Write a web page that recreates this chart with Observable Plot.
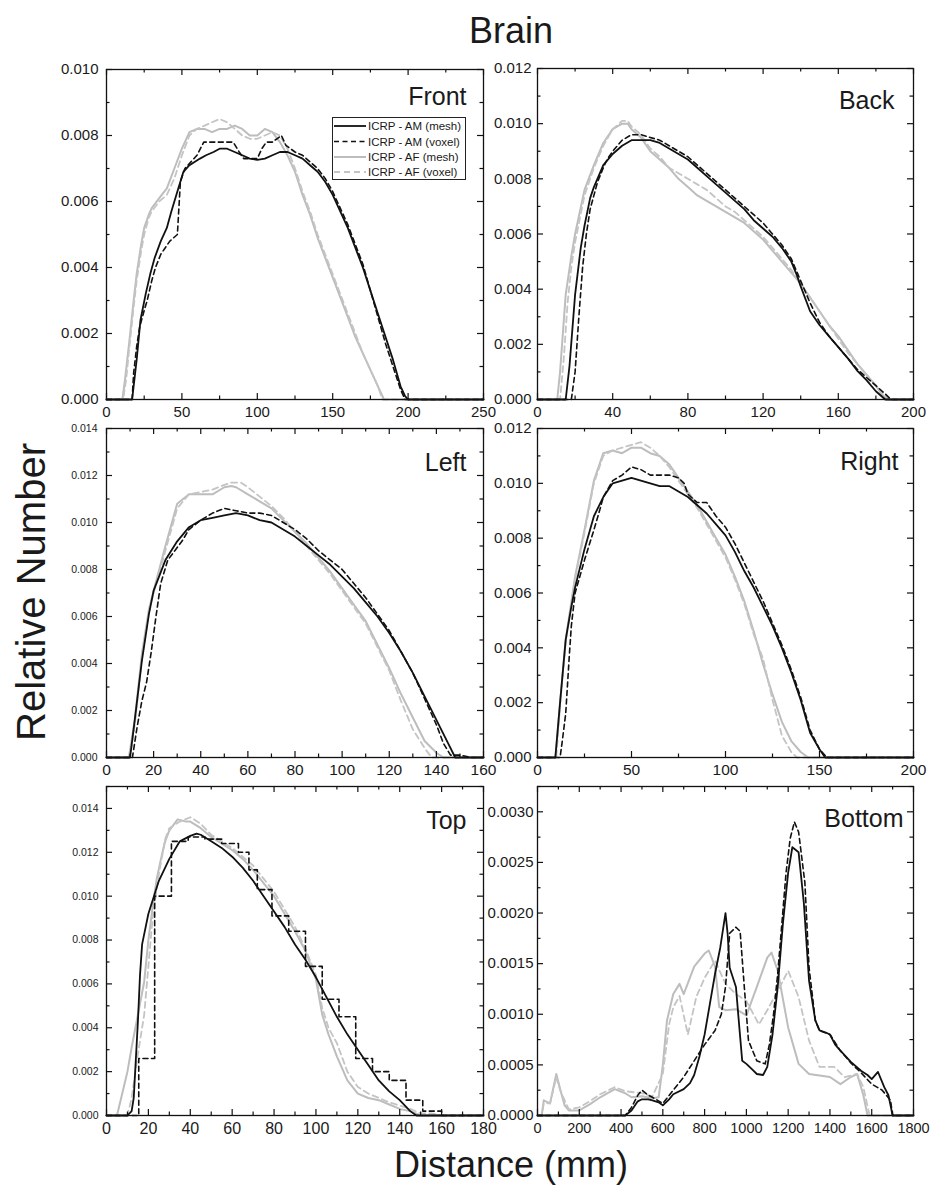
<!DOCTYPE html>
<html><head><meta charset="utf-8">
<script src="https://cdn.jsdelivr.net/npm/d3@7"></script>
<script src="https://cdn.jsdelivr.net/npm/@observablehq/plot@0.6"></script>
<style>
body{margin:0;background:#fff;}
#root{position:relative;width:933px;height:1194px;background:#fff;font-family:"Liberation Sans",Arial,sans-serif;color:#111;overflow:hidden}
#root svg{position:absolute;overflow:visible}
</style></head><body><div id="root"></div>
<script>
// ---------- series names ----------
const seriesNames = ["ICRP - AM (mesh)", "ICRP - AM (voxel)", "ICRP - AF (mesh)", "ICRP - AF (voxel)"];
const panelNames = ["Front", "Back", "Left", "Right", "Top", "Bottom"];

// ---------- Front ----------
const front_AM_mesh = [[0,0],[17,0],[20,0.0012],[22.5,0.0024],[26,0.0032],[29,0.0038],[32,0.0043],[36,0.0048],[40,0.0052],[43,0.0057],[47,0.0063],[51,0.0069],[55,0.0071],[62,0.0073],[66,0.0074],[71,0.0075],[75,0.0076],[80,0.0076],[85,0.0075],[90,0.0074],[95,0.0073],[100,0.00726],[105,0.0073],[110,0.0074],[115,0.0075],[120,0.0075],[125,0.0074],[130,0.0073],[135,0.0071],[140,0.0069],[145,0.0066],[150,0.0062],[155,0.0057],[160,0.0052],[165,0.0046],[170,0.0040],[175,0.0033],[180,0.0026],[185,0.0019],[190,0.0012],[195,0.0004],[198,0.0001],[200,0],[250,0]];
const front_AM_vox = [[0,0],[17,0],[18,0.0008],[20,0.0016],[22,0.0022],[25,0.0027],[27,0.0030],[30,0.0036],[32.5,0.0040],[36,0.0044],[39,0.0046],[42,0.0048],[44.5,0.0049],[47,0.0050],[48,0.0058],[49,0.0066],[52,0.0070],[56,0.0072],[60,0.0074],[64.5,0.0078],[70,0.0078],[75,0.0078],[80,0.0078],[84,0.0078],[88,0.0075],[91,0.0073],[96,0.0073],[100,0.0073],[103,0.0076],[106,0.0078],[110,0.0078],[113,0.0079],[116,0.0080],[119,0.0077],[125,0.0075],[130,0.0074],[135,0.0072],[140,0.0070],[145,0.0067],[150,0.0063],[155,0.0058],[160,0.0053],[165,0.0047],[170,0.0041],[175,0.0033],[180,0.0025],[185,0.0017],[190,0.0010],[195,0.0003],[198,0],[250,0]];
const front_AF_mesh = [[0,0],[10.5,0],[12,0.0005],[15,0.0017],[18,0.0030],[20,0.0038],[23,0.0047],[25,0.0052],[28,0.0056],[30,0.0058],[35,0.0061],[40,0.0064],[45,0.0070],[50,0.0076],[55,0.0081],[60,0.0082],[65,0.0082],[70,0.0081],[75,0.0082],[80,0.0082],[85,0.0083],[90,0.0082],[95,0.0080],[100,0.0080],[105,0.0082],[110,0.0081],[115,0.0078],[120,0.0074],[125,0.0069],[130,0.0062],[135,0.0056],[140,0.0049],[145,0.0043],[150,0.0037],[155,0.0031],[160,0.0025],[165,0.0019],[170,0.0014],[175,0.0009],[180,0.0004],[184,0],[250,0]];
const front_AF_vox = [[0,0],[11,0],[13,0.0006],[15,0.0015],[18,0.0028],[20,0.0036],[23,0.0045],[25,0.0050],[28,0.0055],[30,0.0057],[35,0.0060],[40,0.0062],[45,0.0067],[50,0.0074],[55,0.0080],[60,0.0082],[65,0.0083],[70,0.0084],[75,0.0085],[80,0.0084],[85,0.0082],[90,0.0080],[95,0.0079],[100,0.0079],[105,0.0080],[110,0.0081],[115,0.0080],[120,0.0076],[125,0.0070],[130,0.0063],[135,0.0057],[140,0.0050],[145,0.0044],[150,0.0038],[155,0.0032],[160,0.0026],[165,0.0020],[170,0.0014],[175,0.0009],[180,0.0004],[183,0],[250,0]];

// ---------- Back ----------
const back_AM_mesh = [[0,0],[15,0],[17,0.0012],[20,0.0038],[23,0.0055],[25,0.0063],[28,0.0073],[30,0.0077],[35,0.0085],[40,0.0089],[45,0.0092],[50,0.0094],[55,0.0094],[60,0.0094],[65,0.0093],[70,0.0091],[75,0.0089],[80,0.0087],[85,0.0084],[90,0.0081],[95,0.0078],[100,0.0075],[105,0.0072],[110,0.0069],[115,0.0065],[120,0.0062],[125,0.0059],[130,0.0055],[135,0.0050],[138,0.0045],[140,0.0041],[145,0.0032],[150,0.0027],[155,0.0023],[160,0.0019],[165,0.0015],[170,0.00105],[175,0.0007],[180,0.0003],[185,0],[200,0]];
const back_AM_vox = [[0,0],[18,0],[20,0.0010],[22,0.0030],[24,0.0048],[26,0.0060],[28,0.0069],[30,0.0074],[32,0.0079],[35,0.0084],[37,0.0087],[40,0.0090],[45,0.0094],[50,0.0096],[55,0.0096],[60,0.0095],[65,0.0094],[70,0.0092],[75,0.0090],[80,0.0088],[85,0.0085],[90,0.0082],[95,0.0079],[100,0.0076],[105,0.0073],[110,0.0070],[115,0.0067],[120,0.0064],[125,0.0060],[130,0.0056],[135,0.0051],[140,0.0043],[145,0.0035],[150,0.0028],[155,0.0023],[160,0.0019],[165,0.0015],[170,0.0011],[175,0.0008],[180,0.0005],[185,0.0002],[188,0],[200,0]];
const back_AF_mesh = [[0,0],[10.5,0],[12,0.0010],[15,0.0038],[18,0.0052],[20,0.0060],[25,0.0076],[30,0.0085],[35,0.0093],[40,0.0098],[45,0.0100],[48,0.0100],[50,0.0098],[55,0.0095],[60,0.0090],[65,0.0087],[70,0.0084],[75,0.0080],[80,0.0077],[85,0.0074],[90,0.0072],[95,0.0070],[100,0.0068],[105,0.0066],[110,0.0064],[115,0.0061],[120,0.0058],[125,0.0054],[130,0.0050],[135,0.0046],[140,0.0042],[145,0.0037],[150,0.0032],[155,0.0027],[160,0.0023],[165,0.0018],[170,0.0013],[175,0.0009],[180,0.0005],[183,0.0002],[186,0],[200,0]];
const back_AF_vox = [[0,0],[12,0],[14,0.0015],[16,0.0035],[18,0.0048],[20,0.0057],[25,0.0074],[30,0.0084],[35,0.0092],[40,0.0098],[45,0.0101],[48,0.0101],[50,0.0099],[55,0.0096],[60,0.0091],[65,0.0088],[70,0.0084],[75,0.0082],[80,0.0080],[85,0.0078],[90,0.0076],[95,0.0073],[100,0.0070],[105,0.0068],[110,0.0065],[115,0.0062],[120,0.0059],[125,0.0055],[130,0.0051],[135,0.0047],[140,0.0042],[145,0.0037],[150,0.0032],[155,0.0027],[160,0.0022],[165,0.0017],[170,0.0013],[175,0.0009],[180,0.0005],[184,0.0002],[187,0],[200,0]];

// ---------- Left ----------
const left_AM_mesh = [[0,0],[10,0],[12,0.0016],[15,0.0041],[18,0.0061],[20,0.0071],[25,0.0084],[30,0.0092],[35,0.0098],[40,0.0101],[45,0.0102],[50,0.0103],[55,0.0104],[60,0.0103],[65,0.0101],[70,0.0100],[75,0.0097],[80,0.0094],[85,0.0090],[90,0.0086],[95,0.0082],[100,0.0077],[105,0.0072],[110,0.0066],[115,0.0060],[120,0.0053],[125,0.0045],[130,0.0036],[135,0.0026],[140,0.0016],[145,0.0006],[148,0],[160,0]];
const left_AM_vox = [[0,0],[11,0],[13,0.0013],[15,0.0024],[17,0.0032],[19,0.0045],[21,0.0060],[23,0.0074],[26,0.0084],[29,0.0088],[32,0.0092],[35,0.0097],[40,0.0101],[45,0.0104],[50,0.0106],[55,0.0105],[60,0.0104],[65,0.0104],[70,0.0103],[75,0.0100],[80,0.0097],[85,0.0093],[90,0.0088],[95,0.0084],[100,0.0080],[105,0.0074],[110,0.0068],[115,0.0061],[120,0.0054],[125,0.0045],[130,0.0036],[135,0.0025],[140,0.0014],[143,0.0006],[146,0.0001],[150,0.0001],[155,0],[160,0]];
const left_AF_mesh = [[0,0],[9.5,0],[12,0.0016],[15,0.0044],[18,0.0063],[20,0.0071],[25,0.0090],[30,0.0108],[35,0.0112],[40,0.0112],[45,0.0112],[50,0.0115],[53,0.01155],[55,0.0115],[60,0.0112],[65,0.0109],[70,0.0106],[75,0.0101],[80,0.0096],[85,0.0091],[90,0.0085],[95,0.0079],[100,0.0072],[105,0.0065],[110,0.0058],[115,0.0048],[120,0.0038],[125,0.0027],[130,0.0017],[135,0.0007],[140,0.0002],[143,0],[160,0]];
const left_AF_vox = [[0,0],[10,0],[12,0.0014],[15,0.0042],[18,0.0062],[20,0.0070],[25,0.0088],[30,0.0106],[35,0.0112],[40,0.0113],[45,0.0114],[50,0.0116],[53,0.0117],[57,0.0117],[60,0.0115],[65,0.0111],[70,0.0107],[75,0.0102],[80,0.0096],[85,0.0090],[90,0.0084],[95,0.0078],[100,0.0071],[105,0.0064],[110,0.0057],[115,0.0047],[120,0.0037],[125,0.0024],[130,0.0012],[135,0.0004],[138,0],[160,0]];

// ---------- Right ----------
const right_AM_mesh = [[0,0],[9.5,0],[12,0.0020],[15,0.0043],[18,0.0055],[20,0.0062],[25,0.0076],[30,0.0088],[35,0.0095],[40,0.0100],[45,0.0101],[50,0.0102],[55,0.0101],[60,0.0100],[65,0.0099],[70,0.0099],[75,0.0097],[80,0.0095],[85,0.0092],[90,0.0089],[95,0.0085],[100,0.0081],[105,0.0075],[110,0.0068],[115,0.0062],[120,0.0055],[125,0.0048],[130,0.0040],[135,0.0031],[140,0.0021],[145,0.0009],[150,0.0003],[153,0],[200,0]];
const right_AM_vox = [[0,0],[12,0],[13,0.0005],[15,0.0016],[17,0.0038],[18,0.0048],[20,0.0060],[25,0.0072],[30,0.0083],[33,0.0090],[35,0.0095],[40,0.0101],[45,0.0103],[50,0.0106],[55,0.0105],[60,0.0103],[65,0.0103],[70,0.0103],[75,0.0102],[78,0.0100],[80,0.0096],[85,0.0093],[90,0.0093],[95,0.0088],[100,0.0084],[105,0.0078],[110,0.0071],[115,0.0064],[120,0.0057],[125,0.0049],[130,0.0041],[135,0.0032],[140,0.0022],[145,0.0010],[150,0.0003],[154,0],[200,0]];
const right_AF_mesh = [[0,0],[9.5,0],[12,0.0020],[15,0.0043],[20,0.0066],[25,0.0083],[30,0.0101],[35,0.0111],[40,0.0112],[45,0.0111],[50,0.0113],[55,0.0113],[60,0.0111],[65,0.0110],[70,0.0107],[75,0.0102],[80,0.0097],[85,0.0092],[90,0.0086],[95,0.0080],[100,0.0074],[105,0.0066],[110,0.0057],[115,0.0046],[120,0.0034],[125,0.0023],[130,0.0013],[135,0.0006],[140,0.0002],[144,0],[200,0]];
const right_AF_vox = [[0,0],[10,0],[12,0.0019],[15,0.0042],[20,0.0065],[25,0.0082],[30,0.0100],[35,0.0110],[40,0.0112],[45,0.0113],[50,0.0114],[55,0.0115],[60,0.0113],[65,0.0110],[70,0.0106],[75,0.0101],[80,0.0096],[85,0.0091],[90,0.0085],[95,0.0079],[100,0.0073],[105,0.0065],[110,0.0056],[115,0.0045],[120,0.0036],[125,0.0021],[130,0.0008],[135,0.0002],[138,0],[200,0]];

// ---------- Top ----------
const top_AM_mesh = [[0,0],[10,0],[12,0.0002],[13,0.0008],[15,0.0043],[16,0.0064],[17,0.0078],[20,0.0092],[25,0.0107],[30,0.0117],[35,0.0125],[40,0.01275],[43,0.01285],[45,0.0128],[50,0.0125],[55,0.0122],[60,0.0118],[65,0.0113],[70,0.0107],[75,0.0100],[80,0.0093],[85,0.0086],[90,0.0078],[95,0.0071],[100,0.0063],[105,0.0054],[110,0.0045],[115,0.0037],[120,0.0030],[125,0.0023],[130,0.0016],[135,0.0011],[140,0.0007],[145,0.0002],[148,0],[180,0]];
const top_AM_vox = [[0,0],[14,0],[15.4,0.0026],[23,0.0100],[31,0.0125],[39,0.0127],[47,0.0126],[55,0.0124],[63,0.0120],[68,0.0112],[72,0.0103],[79,0.0091],[87,0.0084],[95,0.0068],[103,0.0053],[111,0.0045],[119,0.0026],[127,0.0020],[135,0.0016],[143,0.0007],[151,0.0002],[160,0],[180,0]];
const top_AF_mesh = [[0,0],[5,0],[8,0.0012],[10,0.0020],[12,0.0031],[15,0.0046],[18,0.0061],[20,0.0080],[22,0.0095],[24,0.0108],[26,0.0117],[28,0.0125],[30,0.0130],[34,0.0135],[38,0.0134],[40,0.0134],[45,0.0131],[50,0.0127],[55,0.0124],[60,0.0121],[65,0.0117],[70,0.0112],[75,0.0106],[80,0.0100],[85,0.0092],[90,0.0084],[95,0.0075],[100,0.0062],[103,0.0046],[106,0.0037],[110,0.0027],[115,0.0016],[120,0.0010],[125,0.0008],[130,0.0007],[135,0.0005],[140,0.0003],[145,0.0002],[150,0],[180,0]];
const top_AF_vox = [[0,0],[10,0],[12,0.0008],[15,0.0028],[18,0.0046],[20,0.0068],[22,0.0090],[25,0.0110],[28,0.0126],[30,0.0131],[35,0.0134],[40,0.0136],[45,0.0133],[50,0.0128],[55,0.0125],[60,0.0122],[65,0.0118],[70,0.0114],[75,0.0108],[80,0.0102],[85,0.0094],[90,0.0086],[95,0.0076],[100,0.0064],[103,0.0049],[106,0.0040],[110,0.0033],[115,0.0020],[120,0.0013],[125,0.0010],[130,0.0008],[135,0.0006],[140,0.00045],[145,0.0003],[150,0.0001],[155,0.0001],[160,0],[180,0]];

// ---------- Bottom ----------
const bottom_AM_mesh = [[0,0],[420,0],[450,0.00005],[480,0.00014],[500,0.00016],[530,0.00016],[550,0.00015],[580,0.00013],[600,0.0001],[630,0.00016],[650,0.00021],[700,0.00026],[730,0.00032],[750,0.0004],[775,0.00058],[800,0.0008],[825,0.0011],[850,0.0014],[875,0.00166],[900,0.0020],[910,0.0018],[920,0.00146],[950,0.00127],[965,0.0009],[980,0.00054],[1000,0.00051],[1030,0.00045],[1050,0.00041],[1080,0.0004],[1100,0.00048],[1125,0.0008],[1150,0.00127],[1175,0.0019],[1200,0.0024],[1220,0.00265],[1250,0.0026],[1275,0.0021],[1300,0.00133],[1330,0.00094],[1350,0.00084],[1380,0.00082],[1400,0.0008],[1425,0.0007],[1450,0.00064],[1500,0.00053],[1550,0.00044],[1580,0.0004],[1600,0.00036],[1630,0.00043],[1660,0.00028],[1680,0.0002],[1690,0.0001],[1700,0],[1800,0]];
const bottom_AM_vox = [[0,0],[420,0],[450,0.00008],[480,0.0002],[500,0.00025],[530,0.0002],[550,0.00018],[600,0.00012],[650,0.00025],[700,0.00038],[750,0.00054],[800,0.0007],[850,0.00084],[880,0.001],[900,0.00127],[920,0.0018],[950,0.00186],[970,0.00182],[990,0.00127],[1010,0.00074],[1050,0.00054],[1090,0.00051],[1110,0.0007],[1130,0.001],[1150,0.0014],[1170,0.0019],[1190,0.0024],[1210,0.00274],[1230,0.0029],[1250,0.0028],[1280,0.0023],[1300,0.00146],[1330,0.00094],[1350,0.00084],[1400,0.0008],[1450,0.00064],[1500,0.00052],[1550,0.00042],[1600,0.00031],[1650,0.00025],[1690,0.00015],[1700,0],[1800,0]];
const bottom_AF_mesh = [[0,0],[20,0],[30,0.00015],[60,0.00012],[90,0.00041],[110,0.00025],[130,0.0001],[150,0.00005],[200,0.00005],[250,0.00011],[300,0.00018],[370,0.00026],[420,0.00022],[450,0.00018],[500,0.00019],[550,0.00017],[580,0.00018],[600,0.0005],[620,0.00094],[650,0.0012],[680,0.0013],[700,0.0012],[750,0.00147],[800,0.0016],[820,0.00163],[850,0.00147],[870,0.00107],[900,0.00104],[950,0.00105],[1000,0.00099],[1050,0.00127],[1100,0.00156],[1120,0.00161],[1150,0.00143],[1200,0.00087],[1250,0.00051],[1300,0.00041],[1400,0.00038],[1450,0.00031],[1500,0.00038],[1530,0.00041],[1560,0.0002],[1580,0],[1800,0]];
const bottom_AF_vox = [[0,0],[20,0],[30,0.00012],[60,0.00012],[90,0.00038],[110,0.00024],[150,0.00006],[200,0.00008],[250,0.00014],[300,0.00021],[370,0.00028],[420,0.00024],[500,0.00022],[550,0.00019],[600,0.00041],[630,0.0009],[650,0.00107],[680,0.00118],[720,0.0008],[760,0.00117],[800,0.00136],[850,0.00153],[900,0.0013],[950,0.0012],[1000,0.00113],[1060,0.0009],[1100,0.00104],[1150,0.00123],[1200,0.00143],[1250,0.00117],[1300,0.00074],[1350,0.00048],[1420,0.00048],[1470,0.00038],[1530,0.00041],[1560,0.00028],[1590,0],[1800,0]];

// ---------- ticks ----------
const front_xTicks = [0,50,100,150,200,250], front_xMinor = [25,75,125,175,225];
const front_yTicks = [0,0.002,0.004,0.006,0.008,0.010], front_yMinor = [0.001,0.003,0.005,0.007,0.009];
const back_xTicks = [0,40,80,120,160,200], back_xMinor = [20,60,100,140,180];
const back_yTicks = [0,0.002,0.004,0.006,0.008,0.010,0.012], back_yMinor = [0.001,0.003,0.005,0.007,0.009,0.011];
const left_xTicks = [0,20,40,60,80,100,120,140,160], left_xMinor = [10,30,50,70,90,110,130,150];
const left_yTicks = [0,0.002,0.004,0.006,0.008,0.010,0.012,0.014], left_yMinor = [0.001,0.003,0.005,0.007,0.009,0.011,0.013];
const right_xTicks = [0,50,100,150,200], right_xMinor = [25,75,125,175];
const right_yTicks = [0,0.002,0.004,0.006,0.008,0.010,0.012], right_yMinor = [0.001,0.003,0.005,0.007,0.009,0.011];
const top_xTicks = [0,20,40,60,80,100,120,140,160,180], top_xMinor = [10,30,50,70,90,110,130,150,170];
const top_yTicks = [0,0.002,0.004,0.006,0.008,0.010,0.012,0.014], top_yMinor = [0.001,0.003,0.005,0.007,0.009,0.011,0.013,0.015];
const bottom_xTicks = [0,200,400,600,800,1000,1200,1400,1600,1800], bottom_xMinor = [100,300,500,700,900,1100,1300,1500,1700];
const bottom_yTicks = [0,0.0005,0.0010,0.0015,0.0020,0.0025,0.0030], bottom_yMinor = [0.00025,0.00075,0.00125,0.00175,0.00225,0.00275,0.00325];

// ---------- styles ----------
const styles = [
  {stroke:"#111", strokeWidth:1.8, dash:null},
  {stroke:"#111", strokeWidth:1.6, dash:"5,3.5"},
  {stroke:"#bdbdbd", strokeWidth:2, dash:null},
  {stroke:"#c4c4c4", strokeWidth:1.8, dash:"6,4"}
];
const FONT = "'Liberation Sans', Arial, sans-serif";

const panels = [
  {name:panelNames[0], left:106, top:69, w:377, h:330, xMax:250, yMax:0.010, series:[front_AM_mesh,front_AM_vox,front_AF_mesh,front_AF_vox], xT:front_xTicks, xM:front_xMinor, yT:front_yTicks, yM:front_yMinor, fmt:".3f", yFont:15, xFont:15, xPad:7, yPad:8, lx:-17, ly:18},
  {name:panelNames[1], left:537, top:68, w:376, h:331, xMax:200, yMax:0.012, series:[back_AM_mesh,back_AM_vox,back_AF_mesh,back_AF_vox], xT:back_xTicks, xM:back_xMinor, yT:back_yTicks, yM:back_yMinor, fmt:".3f", yFont:15, xFont:15, xPad:7, yPad:6, lx:-19, ly:23},
  {name:panelNames[2], left:106, top:428, w:377, h:329, xMax:160, yMax:0.014, series:[left_AM_mesh,left_AM_vox,left_AF_mesh,left_AF_vox], xT:left_xTicks, xM:left_xMinor, yT:left_yTicks, yM:left_yMinor, fmt:".3f", yFont:10.5, xFont:15.5, xPad:6, yPad:9, lx:-17, ly:25},
  {name:panelNames[3], left:537, top:428, w:376, h:329, xMax:200, yMax:0.012, series:[right_AM_mesh,right_AM_vox,right_AF_mesh,right_AF_vox], xT:right_xTicks, xM:right_xMinor, yT:right_yTicks, yM:right_yMinor, fmt:".3f", yFont:15, xFont:15.5, xPad:6, yPad:6, lx:-15, ly:24},
  {name:panelNames[4], left:106, top:786, w:377, h:329, xMax:180, yMax:0.015, series:[top_AM_mesh,top_AM_vox,top_AF_mesh,top_AF_vox], xT:top_xTicks, xM:top_xMinor, yT:top_yTicks, yM:top_yMinor, fmt:".3f", yFont:10.5, xFont:16, xPad:7, yPad:8, lx:-17, ly:25, stepVox:true},
  {name:panelNames[5], left:537, top:786, w:376, h:329, xMax:1800, yMax:0.00325, series:[bottom_AM_mesh,bottom_AM_vox,bottom_AF_mesh,bottom_AF_vox], xT:bottom_xTicks, xM:bottom_xMinor, yT:bottom_yTicks, yM:bottom_yMinor, fmt:".4f", yFont:15, xFont:14.5, xPad:7, yPad:4, lx:-10, ly:23}
];

const root = document.getElementById("root");
const mL = 60, mR = 6, mT = 6, mB = 32;

panels.forEach(p => {
  const lineMarks = p.series.map((data, i) => Plot.line(data, {
    x: d => d[0], y: d => d[1],
    stroke: styles[i].stroke, strokeWidth: styles[i].strokeWidth,
    strokeDasharray: styles[i].dash || undefined,
    curve: (p.stepVox && i === 1) ? "step-after" : "linear"
  }));
  const ordered = [lineMarks[2], lineMarks[3], lineMarks[0], lineMarks[1]];
  const tickStyle = {stroke: "#111", strokeWidth: 1.2};
  const chart = Plot.plot({
    width: p.w + mL + mR, height: p.h + mT + mB,
    marginLeft: mL, marginRight: mR, marginTop: mT, marginBottom: mB,
    x: {domain: [0, p.xMax]},
    y: {domain: [0, p.yMax]},
    style: {background: "transparent", overflow: "visible", fontFamily: FONT, color: "#1a1a1a"},
    marks: [
      ...ordered,
      Plot.tickX(p.xT, {x: d => d, insetTop: p.h - 6, ...tickStyle}),
      Plot.tickX(p.xT, {x: d => d, insetBottom: p.h - 6, ...tickStyle}),
      Plot.tickX(p.xM, {x: d => d, insetTop: p.h - 3.5, ...tickStyle}),
      Plot.tickX(p.xM, {x: d => d, insetBottom: p.h - 3.5, ...tickStyle}),
      Plot.tickY(p.yT, {y: d => d, insetRight: p.w - 6, ...tickStyle}),
      Plot.tickY(p.yT, {y: d => d, insetLeft: p.w - 6, ...tickStyle}),
      Plot.tickY(p.yM, {y: d => d, insetRight: p.w - 3.5, ...tickStyle}),
      Plot.tickY(p.yM, {y: d => d, insetLeft: p.w - 3.5, ...tickStyle}),
      Plot.axisX(p.xT, {anchor: "bottom", tickSize: 0, tickPadding: p.xPad, fontSize: p.xFont, label: null, tickFormat: d => String(d)}),
      Plot.axisY(p.yT, {anchor: "left", tickSize: 0, tickPadding: p.yPad, fontSize: p.yFont, label: null, tickFormat: d3.format(p.fmt)}),
      Plot.frame({stroke: "#111", strokeWidth: 1.3}),
      Plot.text([p.name], {text: d => d, frameAnchor: "top-right", textAnchor: "end", lineAnchor: "top", dx: p.lx, dy: p.ly, fontSize: 25, fill: "#1a1a1a"})
    ]
  });
  chart.style.left = (p.left - mL) + "px";
  chart.style.top = (p.top - mT) + "px";
  root.appendChild(chart);
});

// ---------- titles & legend overlay ----------
const ov = d3.select(root).append("svg")
  .attr("width", 933).attr("height", 1194)
  .style("left", "0px").style("top", "0px").style("pointer-events", "none")
  .style("font-family", FONT);
ov.append("text").attr("x", 511).attr("y", 43).attr("text-anchor", "middle").attr("font-size", 36).attr("fill", "#1a1a1a").text("Brain");
ov.append("text").attr("x", 511).attr("y", 1177).attr("text-anchor", "middle").attr("font-size", 36).attr("fill", "#1a1a1a").text("Distance (mm)");
ov.append("text").attr("transform", "translate(45,592) rotate(-90)").attr("text-anchor", "middle").attr("font-size", 40).attr("fill", "#1a1a1a").text("Relative Number");

const lg = ov.append("g");
lg.append("rect").attr("x", 332.5).attr("y", 117.5).attr("width", 133).attr("height", 62).attr("fill", "#fff").attr("stroke", "#222").attr("stroke-width", 1);
const rowsY = [126, 141.5, 157, 172];
seriesNames.forEach((name, i) => {
  lg.append("line").attr("x1", 334).attr("x2", 366).attr("y1", rowsY[i]).attr("y2", rowsY[i])
    .attr("stroke", styles[i].stroke).attr("stroke-width", styles[i].strokeWidth)
    .attr("stroke-dasharray", styles[i].dash || null);
  lg.append("text").attr("x", 368).attr("y", rowsY[i] + 4).attr("font-size", 11.5).attr("fill", "#1a1a1a").text(name);
});
</script></body></html>
